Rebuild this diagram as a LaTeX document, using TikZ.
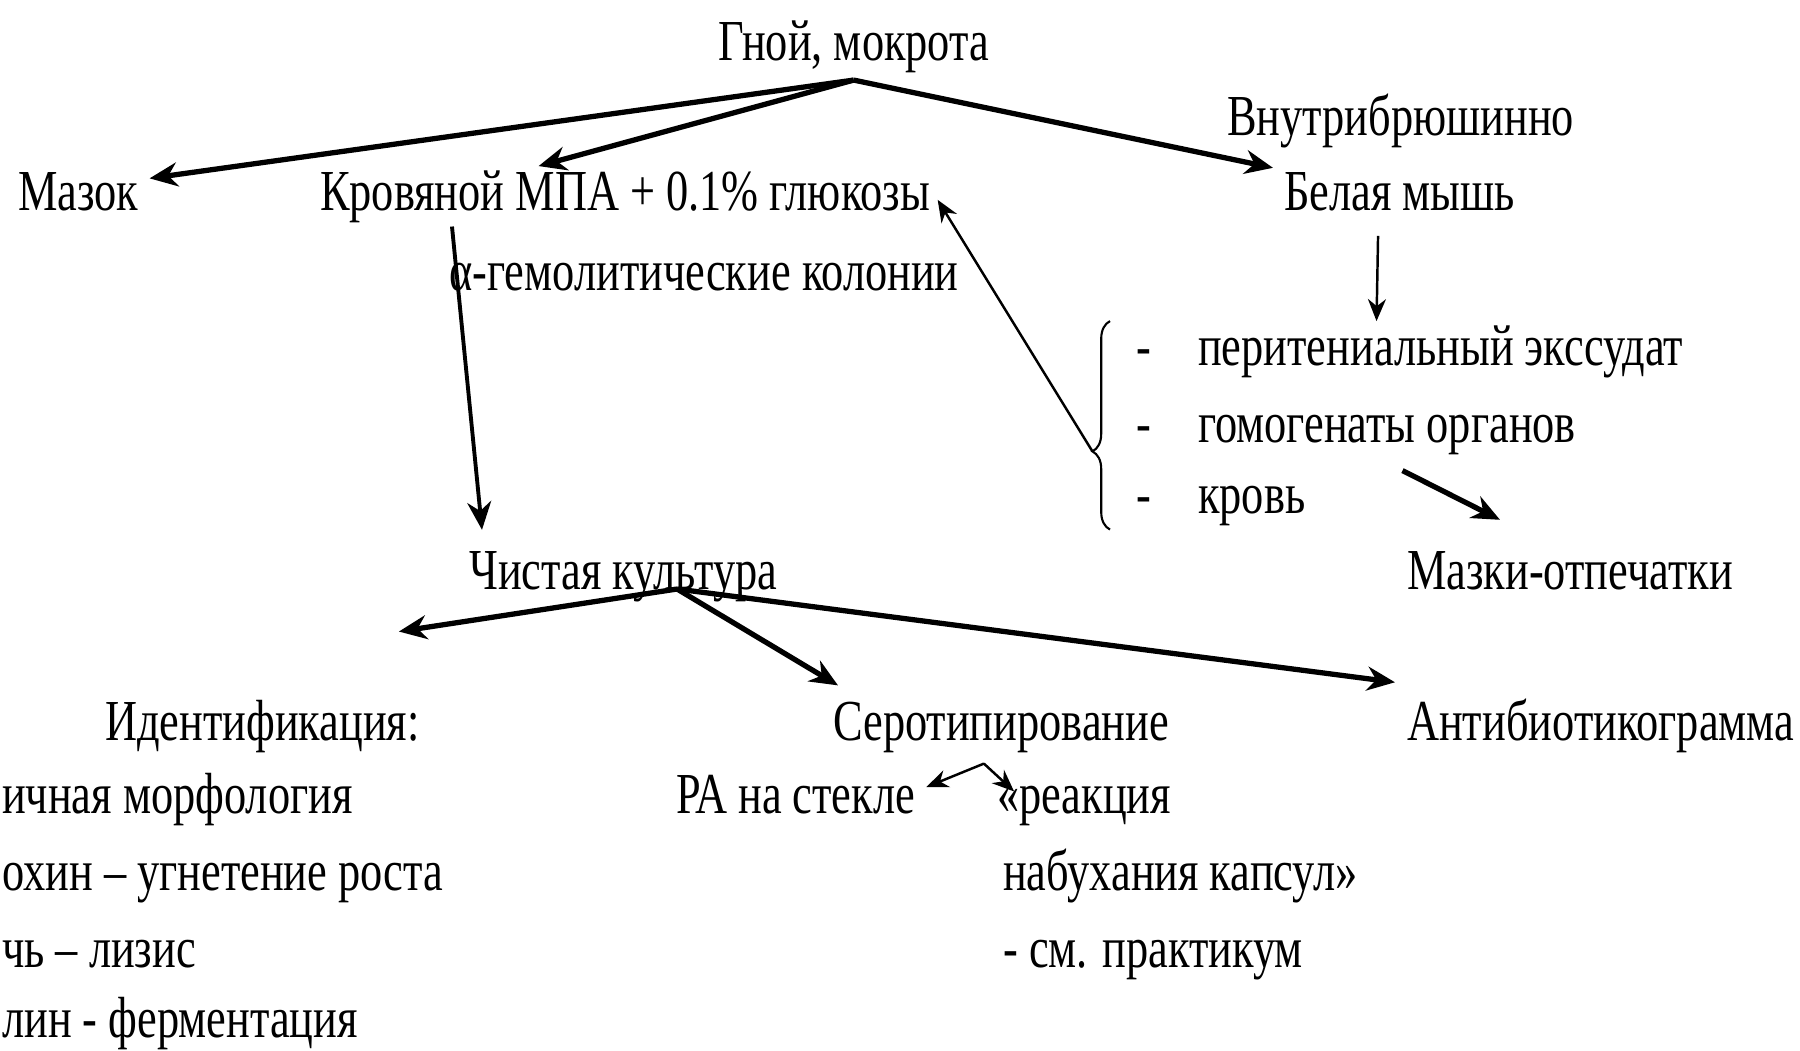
\documentclass[tikz,border=0pt]{standalone}
\usepackage{fontspec}
\setmainfont{Liberation Serif}[FakeStretch=0.765]
\usetikzlibrary{arrows.meta, positioning, calc, decorations.pathreplacing}

\begin{document}
\begin{tikzpicture}[
  lbl/.style={anchor=base west, inner sep=1pt, font=\fontsize{16.5}{19}\selectfont},
  arr/.style={-{Stealth[length=2.8mm, width=2.4mm]}, line width=1.5pt},
  thinarr/.style={-{Stealth[length=2.2mm, width=1.8mm]}, line width=0.7pt},
  brc/.style={decorate, decoration={brace, amplitude=5pt, aspect=0.375}, line width=0.6pt}
]
\useasboundingbox (0,0) rectangle (18,-10.5);
\clip (0,0) rectangle (18,-10.5);

% sample and first plating
\node[lbl] (gnoi)  at (7.14,-0.60) {Гной, мокрота};
\node[lbl] (mazok) at (0.14,-2.10) {Мазок};
\node[lbl] (krov)  at (3.16,-2.10) {Кровяной МПА + 0.1\% глюкозы};
\node[lbl] (vnutr) at (12.23,-1.35) {Внутрибрюшинно};
\node[lbl] (mysh)  at (12.80,-2.10) {Белая мышь};
\node[lbl] (alfa)  at (4.45,-2.90) {α-гемолитические колонии};

% material from the mouse
\node[lbl] (d1)    at (11.32,-3.65) {-};
\node[lbl] (d2)    at (11.32,-4.42) {-};
\node[lbl] (d3)    at (11.32,-5.13) {-};
\node[lbl] (peri)  at (11.94,-3.65) {перитениальный экссудат};
\node[lbl] (gomo)  at (11.94,-4.42) {гомогенаты органов};
\node[lbl] (krovb) at (11.94,-5.13) {кровь};
\node[lbl] (otpech) at (14.03,-5.89) {Мазки-отпечатки};

\node[lbl] (chist) at (4.65,-5.89) {Чистая культура};

% identification
\node[lbl] (ident) at (1.01,-7.40) {Идентификация:};
\node[lbl] (id1)   at (-0.02,-8.13) {ичная морфология};
\node[lbl] (id2)   at (-0.02,-8.90) {охин – угнетение роста};
\node[lbl] (id3)   at (-0.02,-9.67) {чь – лизис};
\node[lbl] (id4)   at (-0.02,-10.37) {лин - ферментация};

\node[lbl] (sero)  at (8.29,-7.40) {Серотипирование};
\node[lbl] (ra)    at (6.72,-8.13) {РА на стекле};
\node[lbl] (reak)  at (9.93,-8.13) {«реакция};
\node[lbl] (nabu)  at (9.99,-8.90) {набухания капсул»};
\node[lbl] (prak)  at (9.99,-9.67) {- см. практикум};
\node[lbl] (anti)  at (14.03,-7.40) {Антибиотикограмма};

\coordinate (gtop)  at ([yshift=-1pt]gnoi.south);
\coordinate (capex) at ($(chist.base west)!0.67!(chist.base east)$);
\coordinate (sfork) at ([yshift=-2pt]$(sero.south west)!0.45!(sero.south east)$);

\draw[brc] ([xshift=-0.84cm]krovb.south west) -- ([xshift=-0.84cm]peri.north west)
  coordinate[pos=0.375] (brmid);

\draw[arr] (gtop) -- ([xshift=2pt,yshift=-3pt]mazok.north east);
\draw[arr] (gtop) -- ($(krov.north west)!0.36!(krov.north east)$);
\draw[arr] (gtop) -- ([xshift=-2pt]mysh.north west);
\draw[arr, line width=1.1pt] ($(krov.south west)!0.22!(krov.south east)$)
  -- ([shift={(0.17,0.17)}]chist.north west);
\draw[thinarr] ([xshift=-5pt]brmid) -- ([xshift=1pt,yshift=-1pt]krov.east);
\draw[thinarr] ([yshift=-6pt]$(mysh.south west)!0.41!(mysh.south east)$)
  -- ($(peri.north west)!0.37!(peri.north east)$);
\draw[arr] ([yshift=-0.12cm]$(gomo.south west)!0.54!(gomo.south east)$)
  -- ([shift={(0.97,0.27)}]otpech.north west);

\draw[arr] (capex) -- ([shift={(-0.25,0.64)}]ident.north east);
\draw[arr] (capex) -- ([shift={(0.09,0.12)}]sero.north west);
\draw[arr] (capex) -- ([shift={(-0.08,0.12)}]anti.north west);
\draw[thinarr] (sfork) -- ([xshift=2pt,yshift=2pt]ra.east);
\draw[thinarr] (sfork) -- ([xshift=6pt,yshift=4pt]reak.west);
\end{tikzpicture}
\end{document}
